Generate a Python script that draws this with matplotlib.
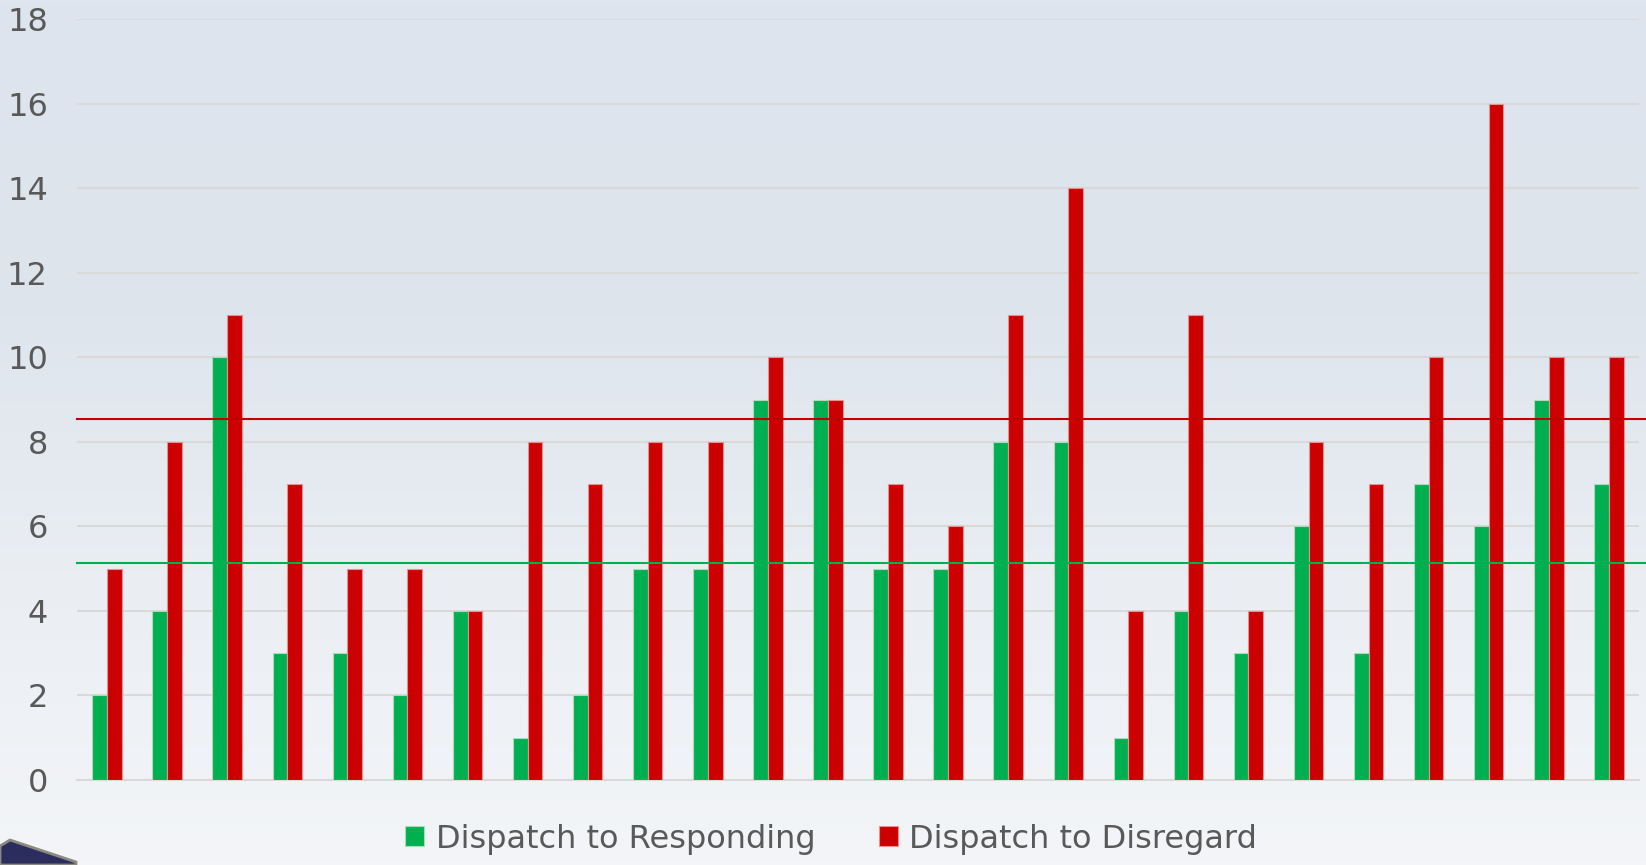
import numpy as np
import matplotlib.pyplot as plt
from matplotlib.colors import LinearSegmentedColormap
from matplotlib.patches import Polygon

# values, one pair per period
responding = [2, 4, 10, 3, 3, 2, 4, 1, 2, 5, 5, 9, 9, 5, 5, 8, 8, 1, 4, 3, 6, 3, 7, 6, 9, 7]
disregard = [5, 8, 11, 7, 5, 5, 4, 8, 7, 8, 8, 10, 9, 7, 6, 11, 14, 4, 11, 4, 8, 7, 10, 16, 10, 10]
avg_responding = 5.14
avg_disregard = 8.55
y_ticks = [0, 2, 4, 6, 8, 10, 12, 14, 16, 18]

GREEN = '#00b050'
RED = '#cc0000'
TEXT = '#595959'

W, H = 1646, 865
fig = plt.figure(figsize=(W / 100, H / 100), dpi=100)

# soft vertical gradient behind everything
bg = fig.add_axes([0, 0, 1, 1], zorder=-10)
grad = np.linspace(0, 1, 256).reshape(-1, 1)
cmap = LinearSegmentedColormap.from_list('bg', ['#f3f5f8', '#eaeef3', '#dde4ec', '#dfe5ee'])
bg.imshow(grad, aspect='auto', cmap=cmap, origin='lower', extent=[0, 1, 0, 1])
bg.set_xlim(0, 1)
bg.set_ylim(0, 1)
bg.axis('off')

# corner of a logo peeking in at the bottom left
pts = [(0, 846), (10, 840), (76, 862), (76, 865), (0, 865)]
bg.add_patch(Polygon([(px / W, 1 - py / H) for px, py in pts], closed=True,
                     facecolor='#2b2d5c', edgecolor='#8a8a80', lw=2, zorder=2))

ax = fig.add_axes([0.0468, 0.0983, 0.9489, 0.8792])
ax.patch.set_alpha(0)

x = np.arange(len(responding))
WIDTH = 0.245
ax.bar(x - WIDTH / 2, responding, width=WIDTH, color=GREEN, edgecolor='#a8dcbc', linewidth=0.8,
       label='Dispatch to Responding', zorder=3)
ax.bar(x + WIDTH / 2, disregard, width=WIDTH, color=RED, edgecolor='#e89090', linewidth=0.8,
       label='Dispatch to Disregard', zorder=3)

ax.axhline(avg_responding, xmin=0, xmax=1.01, color=GREEN, lw=1.5, clip_on=False, zorder=4)
ax.axhline(avg_disregard, xmin=0, xmax=1.01, color='#c00000', lw=1.5, clip_on=False, zorder=4)

ax.set_xlim(-0.5, len(responding) - 0.5)
ax.set_ylim(0, 18)
ax.set_yticks(y_ticks)
ax.set_xticks([])
ax.grid(axis='y', color='#d9d9d9', lw=1.5, zorder=0)
ax.tick_params(axis='y', length=0, pad=21, labelsize=23, labelcolor=TEXT)
for side in ['top', 'right', 'left']:
    ax.spines[side].set_visible(False)
ax.spines['bottom'].set_color('#d9d9d9')
ax.spines['bottom'].set_linewidth(1.5)

leg = fig.legend(loc='center', bbox_to_anchor=(0.505, 0.03), ncol=2, frameon=False,
                 fontsize=23, handlelength=0.6, handleheight=0.6, handletextpad=0.35,
                 columnspacing=2.0)
for t in leg.get_texts():
    t.set_color(TEXT)

plt.savefig('out.png', dpi=100)
